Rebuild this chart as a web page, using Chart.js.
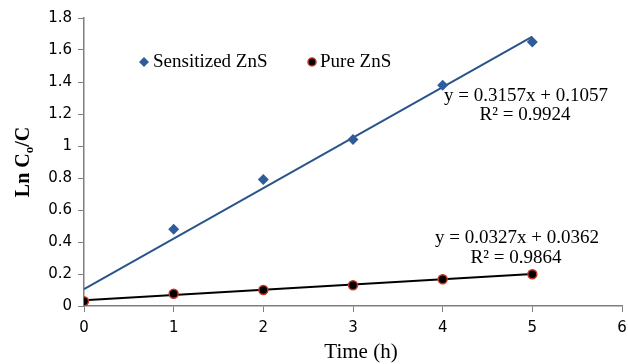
<!DOCTYPE html>
<html>
<head>
<meta charset="utf-8">
<script src="https://cdn.jsdelivr.net/npm/chart.js@4/dist/chart.umd.min.js"></script>
<style>
  html, body { margin: 0; padding: 0; background: #fff; }
  #wrap { width: 628px; height: 364px; }
</style>
</head>
<body>
<div id="wrap"><canvas id="chart" width="628" height="364"></canvas></div>
<script>
// data
var timeHours = [1, 2, 3, 4, 5];
var sensitizedLn = [0.48, 0.79, 1.04, 1.38, 1.65];
var pureTime = [0, 1, 2, 3, 4, 5];
var pureLn = [0.03, 0.077, 0.10, 0.13, 0.167, 0.198];

// linear trendlines as printed on the chart (slope, intercept)
var sensitizedFit = [0.3157, 0.1057];
var pureFit = [0.0327, 0.0362];
var fitRange = [0, 5];

var xTicks = [0, 1, 2, 3, 4, 5, 6];
var yTicks = [0, 0.2, 0.4, 0.6, 0.8, 1, 1.2, 1.4, 1.6, 1.8];

var seriesNames = ["Sensitized ZnS", "Pure ZnS"];
var sensitizedLabels = ["y = 0.3157x + 0.1057", "R\u00b2 = 0.9924"];
var pureLabels = ["y = 0.0327x + 0.0362", "R\u00b2 = 0.9864"];

var blueMark = "#2f5d9b";
var blueLine = "#2a5489";

function toPoints(xs, ys) {
  return xs.map(function(x, i) { return {x: x, y: ys[i]}; });
}
function fitLine(fit) {
  return fitRange.map(function(x) { return {x: x, y: fit[0] * x + fit[1]}; });
}

// axis titles, legend and trendline labels
var annotations = {
  id: "annotations",
  afterDraw: function(chart) {
    var ctx = chart.ctx;
    ctx.save();
    ctx.fillStyle = "#000";
    ctx.textBaseline = "middle";

    // y title with subscript
    ctx.save();
    ctx.translate(24, 162);
    ctx.rotate(-Math.PI / 2);
    var big = "bold 20px 'Liberation Serif', 'Times New Roman', serif";
    var small = "bold 13px 'Liberation Serif', 'Times New Roman', serif";
    ctx.font = big;
    var w1 = ctx.measureText("Ln C").width;
    var w3 = ctx.measureText("/C").width;
    ctx.font = small;
    var w2 = ctx.measureText("o").width;
    var x0 = -(w1 + w2 + w3) / 2;
    ctx.textAlign = "left";
    ctx.font = big;
    ctx.fillText("Ln C", x0, 0);
    ctx.font = small;
    ctx.fillText("o", x0 + w1, 6);
    ctx.font = big;
    ctx.fillText("/C", x0 + w1 + w2, 0);
    ctx.restore();

    // x title
    ctx.font = "21px 'Liberation Serif', 'Times New Roman', serif";
    ctx.textAlign = "center";
    ctx.fillText("Time (h)", 361, 352);

    // legend
    ctx.font = "19px 'Liberation Serif', 'Times New Roman', serif";
    ctx.textAlign = "left";
    ctx.fillText(seriesNames[0], 153, 62);
    ctx.fillText(seriesNames[1], 320, 62);
    ctx.fillStyle = blueMark;
    ctx.beginPath();
    ctx.moveTo(144, 57); ctx.lineTo(149, 62); ctx.lineTo(144, 67); ctx.lineTo(139, 62);
    ctx.closePath();
    ctx.fill();
    ctx.beginPath();
    ctx.arc(312, 62, 4, 0, Math.PI * 2);
    ctx.fillStyle = "#000";
    ctx.fill();
    ctx.lineWidth = 1.5;
    ctx.strokeStyle = "#c0392b";
    ctx.stroke();

    // trendline equations
    ctx.fillStyle = "#000";
    ctx.textAlign = "center";
    ctx.fillText(sensitizedLabels[0], 526, 96);
    ctx.fillText(sensitizedLabels[1], 525, 115);
    ctx.fillText(pureLabels[0], 517, 238);
    ctx.fillText(pureLabels[1], 516, 258);
    ctx.restore();
  }
};

var ctx = document.getElementById("chart").getContext("2d");
var chart = new Chart(ctx, {
  type: "scatter",
  data: {
    datasets: [
      {
        label: seriesNames[0],
        data: toPoints(timeHours, sensitizedLn),
        pointStyle: "rectRot",
        pointRadius: 5.5,
        backgroundColor: blueMark,
        borderColor: blueMark,
        borderWidth: 0,
        order: 1
      },
      {
        label: seriesNames[1],
        data: toPoints(pureTime, pureLn),
        pointStyle: "circle",
        pointRadius: 4.5,
        backgroundColor: "#000",
        borderColor: "#c0392b",
        borderWidth: 1.5,
        order: 0
      },
      {
        label: "Sensitized fit",
        data: fitLine(sensitizedFit),
        showLine: true,
        borderColor: blueLine,
        borderWidth: 2,
        pointRadius: 0,
        order: 3
      },
      {
        label: "Pure fit",
        data: fitLine(pureFit),
        showLine: true,
        borderColor: "#000",
        borderWidth: 2,
        pointRadius: 0,
        order: 2
      }
    ]
  },
  options: {
    responsive: false,
    animation: false,
    layout: { padding: { top: 18, right: 4, left: 0, bottom: 0 } },
    plugins: {
      legend: { display: false },
      tooltip: { enabled: false }
    },
    scales: {
      x: {
        type: "linear",
        min: 0,
        max: 6,
        afterBuildTicks: function(scale) {
          scale.ticks = xTicks.map(function(v) { return {value: v}; });
        },
        afterFit: function(scale) {
          scale.height = 58;
          scale.paddingLeft = 0;
          scale.paddingRight = 0;
        },
        ticks: {
          color: "#000",
          padding: 7,
          font: { family: "'DejaVu Sans', sans-serif", size: 15 },
          callback: function(v) { return String(v); }
        },
        grid: { drawOnChartArea: false, drawTicks: true, tickLength: 6, color: "#7f7f7f" },
        border: { color: "#7f7f7f", width: 1.5 }
      },
      y: {
        type: "linear",
        min: 0,
        max: 1.8,
        afterBuildTicks: function(scale) {
          scale.ticks = yTicks.map(function(v) { return {value: v}; });
        },
        afterFit: function(scale) {
          scale.width = 84;
        },
        ticks: {
          color: "#000",
          padding: 6,
          font: { family: "'DejaVu Sans', sans-serif", size: 15 },
          callback: function(v) { return String(Number(v.toFixed(1))); }
        },
        grid: { drawOnChartArea: false, drawTicks: true, tickLength: 6, color: "#7f7f7f" },
        border: { color: "#7f7f7f", width: 1.5 }
      }
    }
  },
  plugins: [annotations]
});
</script>
</body>
</html>
